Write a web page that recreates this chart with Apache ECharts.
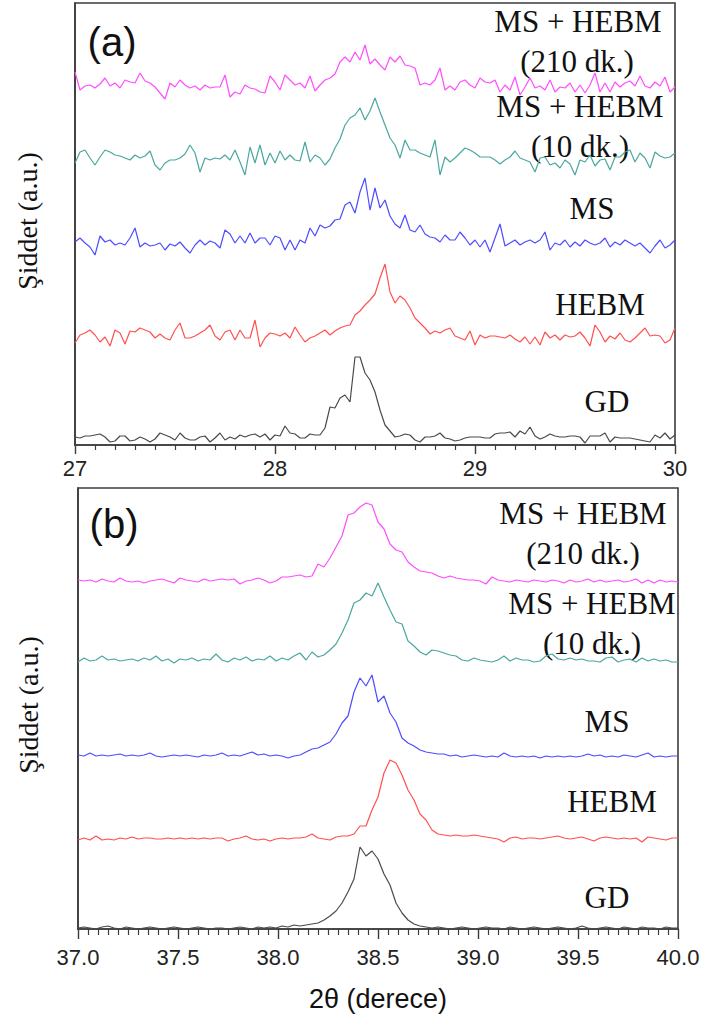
<!DOCTYPE html>
<html><head><meta charset="utf-8">
<script src="https://cdn.jsdelivr.net/npm/echarts@6/dist/echarts.min.js"></script>
<style>html,body{margin:0;padding:0;background:#fff}#c{width:704px;height:1020px}</style>
</head><body><div id="c"></div>
<script>
// ---------- Panel (a): 2θ 27–30°, sampled every 0.025° ----------
const thetaStartA = 27, thetaStepA = 0.025;
const tickLabelsA = [27, 28, 29, 30];
const namesA = ['MS + HEBM (210 dk.)', 'MS + HEBM (10 dk.)', 'MS', 'HEBM', 'GD'];
const offsetsA = [345, 265, 185, 95, 0];   // vertical stacking offset (a.u.)
const magA = [28,10,14,15,12,16,22,14,17,12, 20,18,17,27,19,17,13,7,1,17, 13,20,15,12,14,10,15,12,13,13,
  25,3,8,6,15,12,11,8,7,24, 18,10,25,20,15,17,12,24,9,15, 20,22,26,38,43,38,48,40,55,36,
  41,35,30,43,38,44,35,34,32,15, 17,15,20,32,10,14,10,18,20,15, 12,22,18,17,20,8,15,10,23,5,
  13,22,12,14,10,20,8,13,12,17, 8,15,7,15,27,8,17,8,18,13, 17,19,14,24,14,12,18,14,23,8, 13];
const tealA = [17,28,30,22,15,23,30,28,25,24, 22,20,25,22,24,29,15,10,17,20, 20,22,26,35,27,8,22,20,22,21,
  25,20,30,18,5,33,17,35,15,27, 17,29,20,25,20,19,38,18,25,22, 15,21,32,41,55,62,65,72,60,69,
  82,68,55,42,35,22,40,30,30,27, 25,23,40,5,23,18,22,27,32,30, 27,23,23,23,20,16,20,23,29,22,
  20,18,8,22,23,15,17,12,20,16, 5,20,18,25,14,20,21,10,23,23, 28,30,18,27,22,12,28,24,22,23, 27];
const blueA = [18,22,17,13,5,24,18,20,15,17, 15,22,32,13,17,14,15,17,10,16, 14,18,12,7,15,20,15,19,17,12,
  30,26,17,24,17,27,17,22,22,15, 24,22,10,20,10,20,17,32,24,35, 32,34,40,41,55,58,47,68,82,50,
  72,52,60,44,36,32,45,30,28,35, 26,23,22,18,25,20,20,28,22,15, 20,13,20,8,22,36,14,17,20,15,
  18,20,17,20,28,10,17,15,20,13, 18,14,20,17,15,17,22,13,18,15, 20,17,14,17,12,7,14,20,12,15, 20];
const redA = [7,15,17,20,15,8,13,4,20,17, 6,19,18,22,20,18,12,16,12,10, 20,27,12,12,14,17,20,25,14,10,
  18,20,10,20,12,12,30,3,12,17, 16,14,17,12,23,15,8,12,14,17, 20,15,19,22,24,25,35,39,45,50,
  56,72,86,58,47,54,50,42,32,27, 22,16,19,17,20,22,14,12,10,19, 5,15,12,14,14,13,12,15,11,8,
  13,6,13,5,18,12,15,10,15,13, 14,18,12,4,25,18,8,14,11,17, 10,8,12,17,22,14,15,14,7,10, 22];
const blackA = [8,7,9,9,10,11,8,3,4,9, 9,4,5,8,6,3,6,12,10,8, 5,12,7,5,5,8,9,3,7,12,
  5,8,6,10,8,10,11,8,11,5, 10,9,19,12,11,7,7,11,10,10, 17,38,37,47,50,43,88,88,72,65,
  53,35,20,14,8,9,11,10,5,3, 8,8,9,12,7,6,4,5,7,8, 8,8,7,7,11,12,12,13,8,14,
  11,18,9,6,8,11,9,8,8,9, 9,8,2,9,9,9,12,3,8,7, 7,7,6,5,4,3,10,7,12,6, 10];

// ---------- Panel (b): 2θ 37–40°, sampled every 0.03° ----------
const thetaStartB = 37, thetaStepB = 0.03;
const tickLabelsB = ['37.0', '37.5', '38.0', '38.5', '39.0', '39.5', '40.0'];
const offsetsB = [344, 264, 169, 86, 0];
const magB = [5,4,5,3,6,4,3,7,4,3, 4,2,4,5,6,4,2,7,5,4, 3,6,4,5,6,5,6,1,4,5,
  7,5,2,4,8,8,9,10,8,9, 21,18,27,38,49,70,72,78,82,80, 63,56,41,35,33,23,18,14,13,12,
  9,7,9,7,6,5,5,4,1,8, 5,4,3,5,4,3,5,4,3,5, 4,2,5,3,4,6,3,5,3,4, 5,3,4,6,2,5,2,5,3,4, 3];
const tealB = [3,7,4,5,9,5,6,4,5,6, 4,7,5,9,4,6,2,6,5,7, 4,6,5,11,5,3,7,5,8,4,
  6,5,9,4,7,5,9,12,5,13, 8,10,15,21,32,45,62,65,72,69, 82,68,55,43,41,24,19,13,10,15,
  14,12,10,9,5,4,7,5,4,3, 5,9,4,7,5,5,3,4,9,11, 6,5,7,5,6,4,4,3,7,8, 3,5,6,3,7,4,6,4,5,3, 3];
const blueB = [5,4,7,4,5,4,5,6,4,5, 4,5,7,4,3,4,5,4,5,4, 3,5,4,5,7,4,5,4,6,8,
  5,6,4,5,4,2,4,5,8,11, 12,15,18,26,37,44,68,82,74,85, 58,64,47,38,22,17,14,10,8,7,
  6,6,4,5,3,4,5,4,3,4, 3,7,4,3,4,3,4,2,4,3, 4,3,4,3,4,6,4,5,3,4, 3,5,4,3,5,7,3,4,3,4, 4];
const redB = [3,5,3,7,3,4,3,5,4,6, 4,5,5,4,4,5,4,5,4,5, 4,5,4,5,5,2,4,5,7,4,
  3,4,2,4,5,4,5,5,6,9, 5,4,3,6,7,7,9,17,17,33, 46,70,83,80,68,53,43,29,23,13,
  9,8,7,8,7,7,8,7,6,5, 4,1,5,6,4,5,5,4,5,6, 7,5,4,5,6,4,2,5,6,5, 4,5,4,5,1,6,5,4,3,5, 5];
const blackB = [1,2,1,0,2,3,1,0,2,1, 0,1,2,1,0,1,2,1,0,1, 2,1,0,1,1,0,1,2,1,0,
  2,1,2,1,3,2,4,3,4,5, 6,9,13,18,26,37,50,82,73,78, 70,55,44,26,16,9,5,3,2,1,
  2,1,0,1,2,1,0,1,2,1, 1,0,2,1,0,1,2,1,0,1, 2,1,0,1,3,1,0,1,2,1, 0,2,1,0,2,1,1,0,2,1, 1];

const colors = ['#ff4dff', '#4aa7a0', '#4d4dff', '#ff5050', '#4a4a4a'];
const frame = '#3c3c3c';

function toPairs(vals, start, step, off) {
  return vals.map((v, i) => [+(start + i * step).toFixed(4), v + off]);
}
const seriesA = [magA, tealA, blueA, redA, blackA];
const seriesB = [magB, tealB, blueB, redB, blackB];

const series = [];
seriesA.forEach((vals, k) => series.push({
  type: 'line', xAxisIndex: 0, yAxisIndex: 0, name: namesA[k] + ' a',
  data: toPairs(vals, thetaStartA, thetaStepA, offsetsA[k]),
  symbol: 'none', lineStyle: {color: colors[k], width: 1.2}, itemStyle: {color: colors[k]}
}));
seriesB.forEach((vals, k) => series.push({
  type: 'line', xAxisIndex: 1, yAxisIndex: 1, name: namesA[k] + ' b',
  data: toPairs(vals, thetaStartB, thetaStepB, offsetsB[k]),
  symbol: 'none', lineStyle: {color: colors[k], width: 1.2}, itemStyle: {color: colors[k]}
}));

const serif = '"Liberation Serif", "Times New Roman", serif';
const sans = '"Liberation Sans", Arial, sans-serif';
function lbl(text, x, y, size, fam) {
  return {type: 'text', x: x, y: y, style: {text: text, x: 0, y: 0, textAlign: 'center', textVerticalAlign: 'middle',
    font: size + 'px ' + fam, fill: '#111'}};
}
const tickFmtA = v => tickLabelsA.includes(v) ? String(v) : '';
const tickFmtB = v => { const s = v.toFixed(1); return tickLabelsB.includes(s) ? s : ''; };

const axisCommon = {
  axisLine: {show: true, onZero: false, lineStyle: {color: frame, width: 1.6}},
  splitLine: {show: false}
};

const chart = echarts.init(document.getElementById('c'), null, {renderer: 'svg', width: 704, height: 1020});
chart.setOption({
  animation: false,
  backgroundColor: '#fff',
  grid: [
    {left: 75, top: 3, width: 600, height: 442, show: true, borderColor: frame, borderWidth: 1.6},
    {left: 78, top: 488, width: 600, height: 441, show: true, borderColor: frame, borderWidth: 1.6}
  ],
  xAxis: [
    Object.assign({type: 'value', gridIndex: 0, min: 27, max: 30, interval: 1,
      axisTick: {show: true, inside: false, length: 9, lineStyle: {color: frame, width: 1.4}},
      minorTick: {show: true, splitNumber: 10, length: 5, lineStyle: {color: frame, width: 1.2}},
      axisLabel: {formatter: tickFmtA, margin: 12, fontSize: 22, color: '#222', fontFamily: sans}}, axisCommon),
    Object.assign({type: 'value', gridIndex: 1, min: 37, max: 40, interval: 0.5,
      axisTick: {show: true, inside: false, length: 10, lineStyle: {color: frame, width: 1.4}},
      minorTick: {show: true, splitNumber: 10, length: 6, lineStyle: {color: frame, width: 1.2}},
      axisLabel: {formatter: tickFmtB, margin: 17, fontSize: 22, color: '#222', fontFamily: sans}}, axisCommon)
  ],
  yAxis: [
    Object.assign({type: 'value', gridIndex: 0, min: 0, max: 442, axisTick: {show: false}, axisLabel: {show: false}}, axisCommon),
    Object.assign({type: 'value', gridIndex: 1, min: 0, max: 441, axisTick: {show: false}, axisLabel: {show: false}}, axisCommon)
  ],
  series: series,
  graphic: [
    lbl('(a)', 112, 42, 40, sans),
    lbl('(b)', 114, 524, 40, sans),
    lbl('MS + HEBM', 578, 21, 31, serif),
    lbl('(210 dk.)', 577, 61, 31, serif),
    lbl('MS + HEBM', 580, 106, 31, serif),
    lbl('(10 dk.)', 580, 146, 31, serif),
    lbl('MS', 592, 208, 31, serif),
    lbl('HEBM', 600, 304, 31, serif),
    lbl('GD', 607, 401, 31, serif),
    lbl('MS + HEBM', 583, 513, 31, serif),
    lbl('(210 dk.)', 583, 553, 31, serif),
    lbl('MS + HEBM', 592, 603, 31, serif),
    lbl('(10 dk.)', 592, 643, 31, serif),
    lbl('MS', 607, 721, 31, serif),
    lbl('HEBM', 612, 801, 31, serif),
    lbl('GD', 607, 897, 31, serif),
    Object.assign(lbl('Şiddet (a.u.)', 27, 221, 28, serif), {rotation: Math.PI / 2}),
    Object.assign(lbl('Şiddet (a.u.)', 28, 705, 28, serif), {rotation: Math.PI / 2}),
    lbl('2θ (derece)', 378, 999, 27, sans)
  ]
});
</script></body></html>
